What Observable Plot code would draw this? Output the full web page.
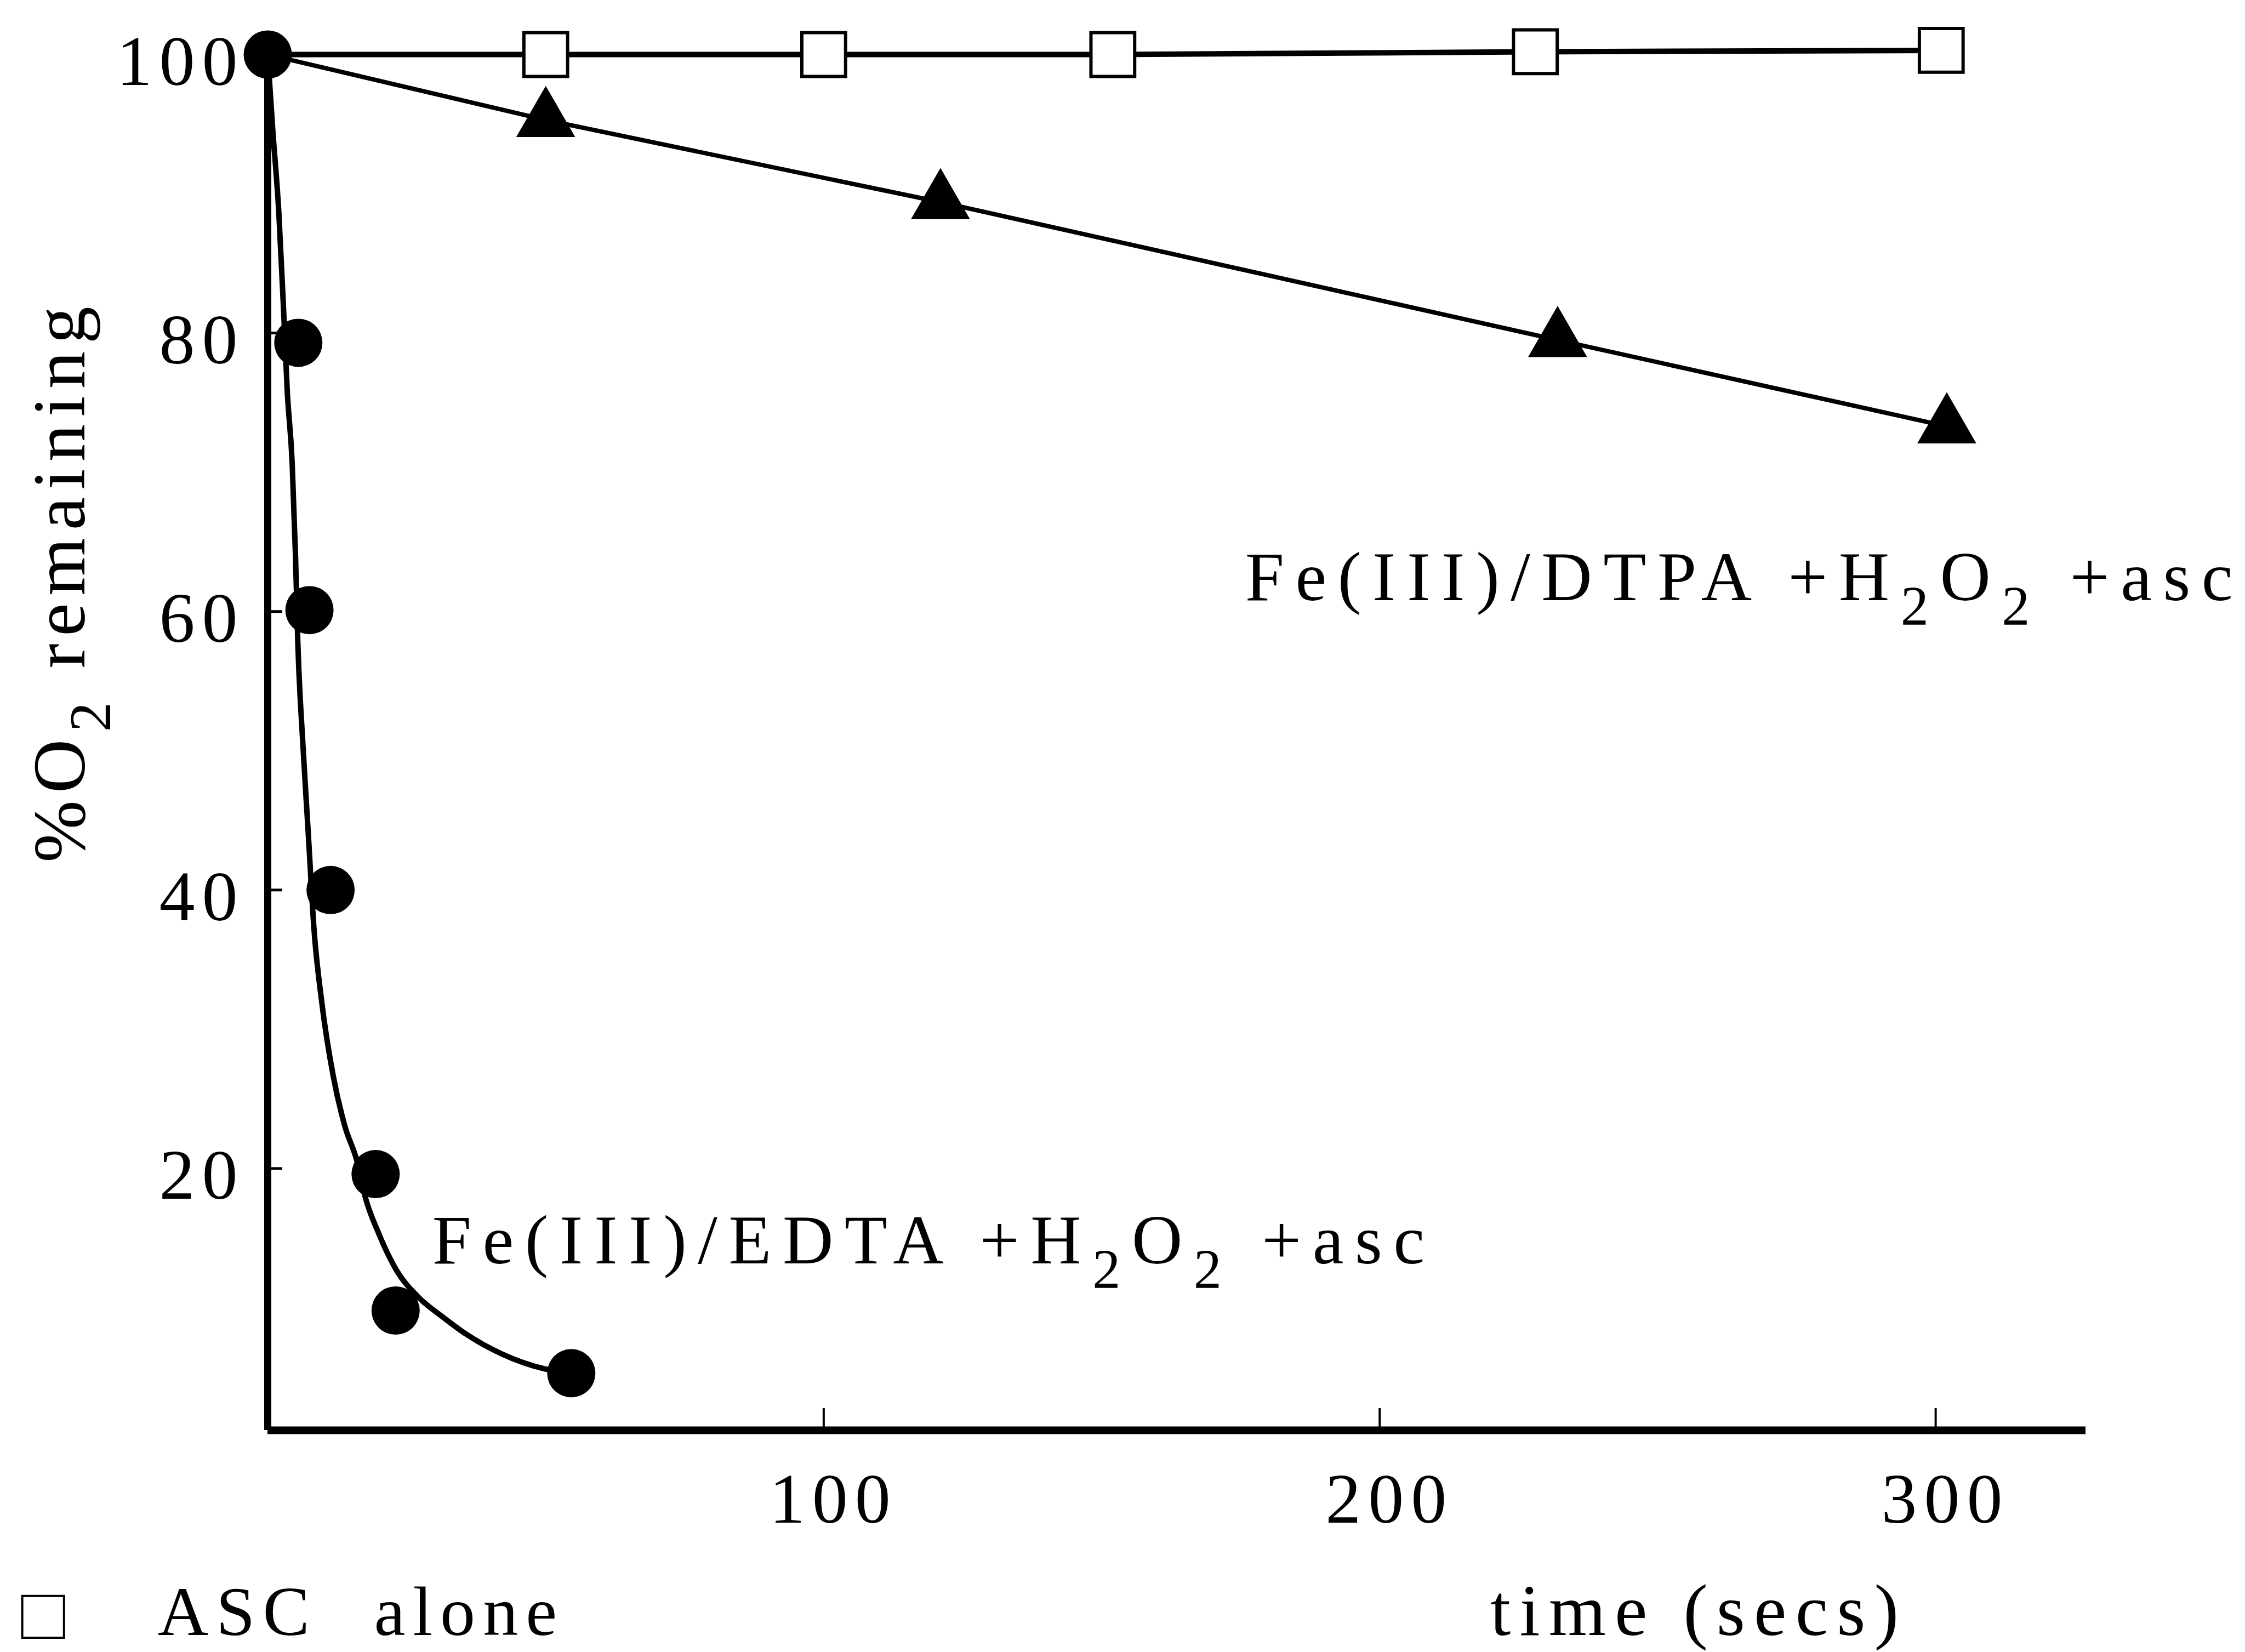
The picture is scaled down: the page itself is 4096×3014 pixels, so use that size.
<!DOCTYPE html>
<html><head><meta charset="utf-8">
<script src="https://cdn.jsdelivr.net/npm/d3@7"></script>
<script src="https://cdn.jsdelivr.net/npm/@observablehq/plot@0.6"></script>
<style>
html,body{margin:0;padding:0;background:#fff;}
#chart svg{display:block;}
</style></head><body><div id="chart"></div>
<script>
// ---- data ----
const ascTime = [0, 50, 100, 152, 228, 301];
const ascO2   = [100, 100, 100, 100, 100.2, 100.3];
const dtpaTime = [0, 50, 121, 232, 302];
const dtpaO2   = [100, 95.3, 89.4, 79.5, 73.3];
const edtaTime = [0, 5.5, 7.5, 11.3, 19.4, 23.0, 54.6];
const edtaO2   = [100, 79.3, 60.1, 40.0, 19.6, 9.8, 5.3];
// fitted curve drawn through the EDTA points
const edtaFitTime = [0, 0.9, 2.0, 2.9, 3.5, 4.4, 5.0, 5.4, 6.3, 7.3, 8.3, 9.7, 11.8, 13.9, 16.0, 17.5, 20.0, 23.3, 27.0, 31.6, 35.7, 42.0, 49.9, 54.6];
const edtaFitO2   = [100, 94.6, 88.6, 81.2, 75.9, 70.6, 63.9, 57.9, 50.6, 44.0, 37.3, 32.0, 26.6, 23.0, 20.6, 18.0, 15.3, 12.6, 10.8, 9.3, 8.1, 6.7, 5.6, 5.3];
const xTicks = [100, 200, 300];
const yTicks = [20, 40, 60, 80, 100];
const xDomain = [0, 327];
const yDomain = [1.2, 100];

const asc = ascTime.map((t, i) => ({t, o2: ascO2[i]}));
const dtpa = dtpaTime.map((t, i) => ({t, o2: dtpaO2[i]}));
const edta = edtaTime.map((t, i) => ({t, o2: edtaO2[i]}));
const edtaFit = edtaFitTime.map((t, i) => ({t, o2: edtaFitO2[i]}));

const svg = Plot.plot({
  width: 4096, height: 3014,
  marginLeft: 488, marginRight: 291, marginTop: 99, marginBottom: 405,
  x: {domain: xDomain},
  y: {domain: yDomain},
  style: {fontFamily: '"Liberation Serif", serif', color: "black", background: "white", overflow: "visible"},
  marks: [
    Plot.ruleX([xDomain[0]], {y1: yDomain[0], y2: yDomain[1], stroke: "black", strokeWidth: 13}),
    Plot.ruleY([yDomain[0]], {x1: xDomain[0], x2: xDomain[1], stroke: "black", strokeWidth: 14}),
    Plot.axisY({ticks: yTicks, tickSize: -27, tickFormat: () => "", strokeWidth: 5, label: null}),
    Plot.axisX({ticks: xTicks, tickSize: -40, tickFormat: () => "", strokeWidth: 4, label: null}),
    Plot.axisY({ticks: yTicks, tickSize: 0, tickPadding: 42, dy: 14, fontSize: 130, label: null}),
    Plot.axisX({ticks: xTicks, tickSize: 0, tickPadding: 76, dx: 18, fontSize: 130, label: null}),
    Plot.line(asc, {x: "t", y: "o2", stroke: "black", strokeWidth: 10}),
    Plot.line(dtpa, {x: "t", y: "o2", stroke: "black", strokeWidth: 8}),
    Plot.line(edtaFit, {x: "t", y: "o2", curve: "monotone-x", stroke: "black", strokeWidth: 10}),
    Plot.dot(asc.filter(d => d.t > 0), {x: "t", y: "o2", symbol: "square", r: 45, fill: "white", stroke: "black", strokeWidth: 6}),
    Plot.dot(dtpa.filter(d => d.t > 0), {x: "t", y: "o2", symbol: "triangle", r: 40, fill: "black", stroke: "none"}),
    Plot.dot(edta, {x: "t", y: "o2", r: 44, fill: "black", stroke: "none"}),
    Plot.text([{x: 29.6, y: 13.17, s: "Fe(III)/EDTA +H_2O_2 +asc"}], {x: "x", y: "y", text: "s", textAnchor: "start", lineAnchor: "bottom", fontSize: 128}),
    Plot.text([{x: 175.8, y: 60.8, s: "Fe(III)/DTPA +H_2O_2 +asc"}], {x: "x", y: "y", text: "s", textAnchor: "start", lineAnchor: "bottom", fontSize: 128}),
    Plot.text([{x: 219.9, y: -13.5, s: "time (secs)"}], {x: "x", y: "y", text: "s", textAnchor: "start", lineAnchor: "bottom", fontSize: 134}),
    Plot.text([{x: -33.0, y: 62.2, s: "%O_2 remaining"}], {x: "x", y: "y", text: "s", textAnchor: "middle", lineAnchor: "bottom", rotate: -90, fontSize: 136}),
    Plot.dot([{x: -40.4, y: -12.2}], {x: "x", y: "y", symbol: "square", r: 43, fill: "white", stroke: "black", strokeWidth: 4}),
    Plot.text([{x: -19.8, y: -13.5, s: "ASC alone"}], {x: "x", y: "y", text: "s", textAnchor: "start", lineAnchor: "bottom", fontSize: 128})
  ]
});

document.getElementById("chart").append(svg);

const NS = "http://www.w3.org/2000/svg";
svg.querySelectorAll("text").forEach(t => {
  const s = t.textContent;
  let spacing = "0.1em";
  if (s.startsWith("Fe(")) spacing = "0.16em";
  else if (s.startsWith("time")) spacing = "0.12em";
  else if (s.startsWith("ASC")) { spacing = "0.11em"; t.style.wordSpacing = "0.45em"; }
  else if (s.startsWith("%")) spacing = "0.1em";
  t.style.letterSpacing = spacing;
  if (s.includes("_")) {
    const fs = parseFloat(getComputedStyle(t).fontSize);
    const drop = fs * 0.35;
    t.textContent = "";
    let lowered = false;
    for (const p of s.split(/(_\d)/)) {
      if (!p) continue;
      const ts = document.createElementNS(NS, "tspan");
      if (p.startsWith("_")) {
        ts.textContent = p.slice(1);
        ts.setAttribute("font-size", fs * 0.8);
        ts.setAttribute("dy", lowered ? 0 : drop);
        lowered = true;
      } else {
        ts.textContent = p;
        if (lowered) { ts.setAttribute("dy", -drop); lowered = false; }
      }
      t.appendChild(ts);
    }
  }
});
</script>
</body></html>
